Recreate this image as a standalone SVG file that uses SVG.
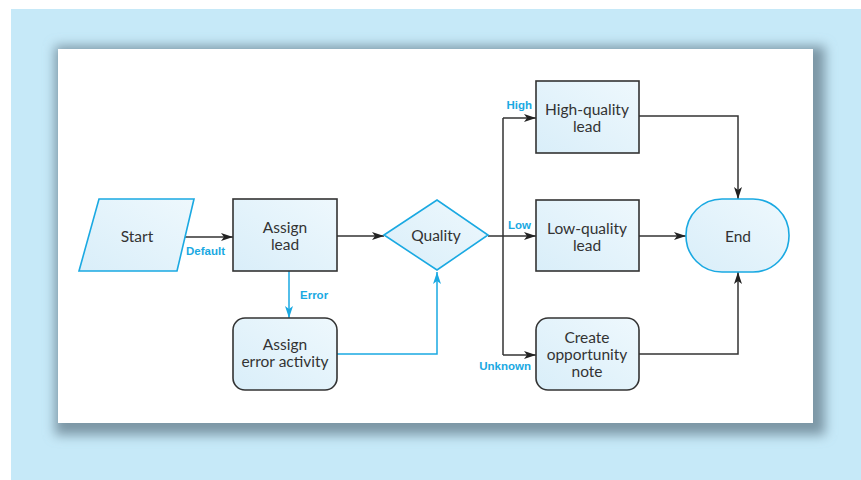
<svg xmlns="http://www.w3.org/2000/svg" width="861" height="480" viewBox="0 0 861 480">
<defs>
<linearGradient id="fillg" x1="0" y1="1" x2="1" y2="0">
<stop offset="0" stop-color="#d9eef9"/>
<stop offset="1" stop-color="#eef8fd"/>
</linearGradient>
<filter id="sh" x="-10%" y="-10%" width="120%" height="125%">
<feGaussianBlur stdDeviation="6"/>
</filter>
<marker id="ak" viewBox="0 0 12 8" refX="12" refY="4" markerWidth="12" markerHeight="8" markerUnits="userSpaceOnUse" orient="auto">
<path d="M0,0 L12,4 L0,8 L3,4 Z" fill="#222"/>
</marker>
<marker id="ac" viewBox="0 0 12 8" refX="12" refY="4" markerWidth="12" markerHeight="8" markerUnits="userSpaceOnUse" orient="auto">
<path d="M0,0 L12,4 L0,8 L3,4 Z" fill="#1aa9e2"/>
</marker>
</defs>
<style>
.box{fill:url(#fillg);stroke:#333;stroke-width:1.6}
.cbox{fill:url(#fillg);stroke:#1aa9e2;stroke-width:1.6}
.t{font-family:Lato,"Liberation Sans",sans-serif;font-size:15.5px;fill:#333;text-anchor:middle}
.lbl{font-family:"Liberation Sans","DejaVu Sans",sans-serif;font-size:11.5px;font-weight:bold;fill:#1aa9e2}
.k{fill:none;stroke:#333;stroke-width:1.5;marker-end:url(#ak)}
.c{fill:none;stroke:#1aa9e2;stroke-width:1.5;marker-end:url(#ac)}
</style>
<rect x="0" y="0" width="861" height="480" fill="#ffffff"/>
<rect x="11" y="9" width="850" height="471" fill="#c6e9f8"/>
<rect x="55" y="46" width="770" height="389" fill="#7b96a5" filter="url(#sh)"/>
<rect x="58" y="49" width="755" height="374" fill="#ffffff"/>

<g id="connectors">
<path class="k" d="M178,237 H233"/>
<path class="c" d="M289,271 V318"/>
<path class="k" d="M337,236 H384"/>
<path class="c" d="M337,354 H437 V272"/>
<path fill="none" stroke="#333" stroke-width="1.5" d="M488,236 H503 M503,118 V355"/>
<path class="k" d="M503,118 H536"/>
<path class="k" d="M503,236 H536"/>
<path class="k" d="M503,355 H536"/>
<path class="k" d="M639,116 H738 V199"/>
<path class="k" d="M639,236 H686"/>
<path class="k" d="M639,354 H738 V272"/>
<text class="lbl" x="186" y="255">Default</text>
<text class="lbl" x="300" y="299">Error</text>
<text class="lbl" x="532" y="109" text-anchor="end">High</text>
<text class="lbl" x="531" y="229" text-anchor="end">Low</text>
<text class="lbl" x="531" y="370" text-anchor="end">Unknown</text>
</g>

<g id="start">
<polygon class="cbox" points="99,199 194,199 177,271 79,271"/>
<text class="t" x="137" y="242">Start</text>
</g>
<g id="assign-lead">
<rect class="box" x="233" y="199" width="104" height="72"/>
<text class="t" x="285" y="233">Assign</text>
<text class="t" x="285" y="250">lead</text>
</g>
<g id="assign-error">
<rect class="box" x="233" y="318" width="104" height="72" rx="12"/>
<text class="t" x="285" y="350">Assign</text>
<text class="t" x="285" y="367">error activity</text>
</g>
<g id="quality">
<polygon class="cbox" points="384,235 437,200 488,235 437,270"/>
<text class="t" x="436" y="241">Quality</text>
</g>
<g id="high-quality">
<rect class="box" x="536" y="81" width="103" height="72"/>
<text class="t" x="587" y="115">High-quality</text>
<text class="t" x="587" y="132">lead</text>
</g>
<g id="low-quality">
<rect class="box" x="536" y="200" width="103" height="71"/>
<text class="t" x="587" y="234">Low-quality</text>
<text class="t" x="587" y="251">lead</text>
</g>
<g id="create-note">
<rect class="box" x="536" y="318" width="103" height="72" rx="12"/>
<text class="t" x="587" y="343">Create</text>
<text class="t" x="587" y="360">opportunity</text>
<text class="t" x="587" y="377">note</text>
</g>
<g id="end">
<rect class="cbox" x="686" y="199" width="103" height="73" rx="36"/>
<text class="t" x="738" y="242">End</text>
</g>
</svg>
